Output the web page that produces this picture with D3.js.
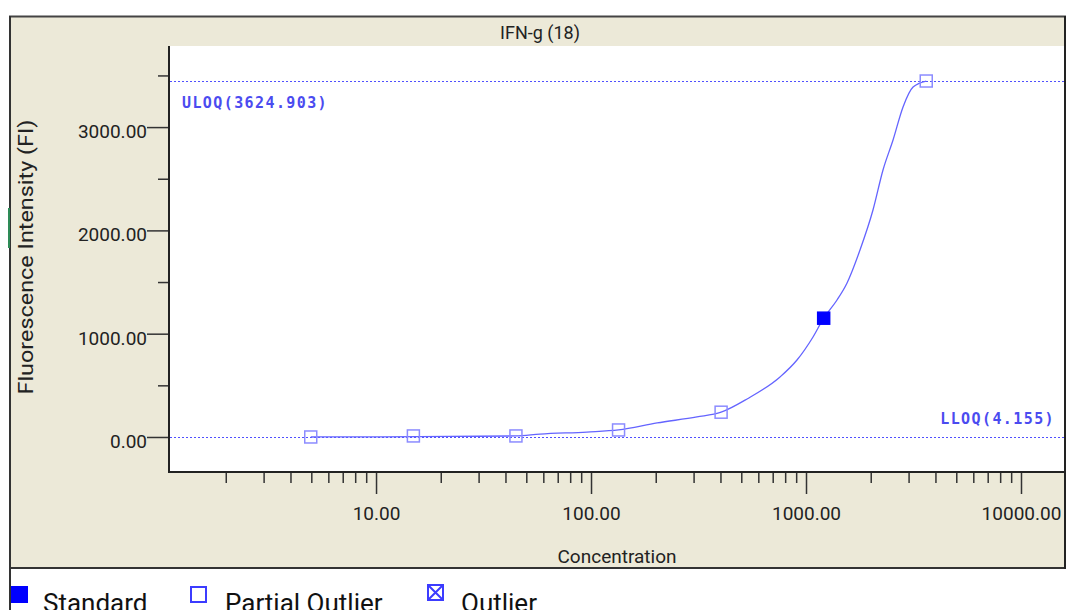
<!DOCTYPE html>
<html>
<head>
<meta charset="utf-8">
<script src="https://cdn.jsdelivr.net/npm/d3@7"></script>
<style>
  body { margin: 0; background: #fff; }
  svg { display: block; font-family: Roboto, "Liberation Sans", sans-serif; }
</style>
</head>
<body>
<div id="chart"></div>
<script>
// standards: 3-fold dilution series
var concentrations = [4.97, 14.92, 44.75, 134.3, 402.8, 1208.3, 3624.9];
var intensities = [0, 10, 10, 68, 240, 1150, 3446];
var pointTypes = ["partial", "partial", "partial", "partial", "partial", "standard", "partial"];

// fitted curve
var curveConc = [4.97, 10.4, 22.1, 44.75, 57.9, 95.7, 134.3, 203, 311, 402.8, 532, 757, 908, 1078, 1208.3, 1394, 1552, 1783, 2049, 2281, 2540, 2827, 3148, 3624.9];
var curveFI = [0, 2, 6, 10, 28, 48, 68, 136, 194, 240, 368, 581, 745, 968, 1150, 1326, 1491, 1810, 2197, 2585, 2875, 3195, 3388, 3446];

var xMajorTicks = [10, 100, 1000, 10000];
var yMajorTicks = [0, 1000, 2000, 3000];
var yMinorTicks = [500, 1500, 2500, 3500];

var uloqLabel = "ULOQ(3624.903)", uloqFI = 3446;
var lloqLabel = "LLOQ(4.155)", lloqFI = 0;

var legendItems = ["Standard", "Partial Outlier", "Outlier"];

var W = 1067, H = 610;
var svg = d3.select("#chart").append("svg").attr("width", W).attr("height", H);

// frame
svg.append("rect").attr("x", 10).attr("y", 16).attr("width", 1055).attr("height", 552)
  .attr("fill", "#ECE9D8");
svg.append("line").attr("x1", 9).attr("x2", 1066).attr("y1", 16.5).attr("y2", 16.5)
  .attr("stroke", "#444").attr("stroke-width", 2);
svg.append("line").attr("x1", 9).attr("x2", 1066).attr("y1", 568).attr("y2", 568)
  .attr("stroke", "#333").attr("stroke-width", 2);
svg.append("line").attr("x1", 1065).attr("x2", 1065).attr("y1", 16).attr("y2", 569)
  .attr("stroke", "#222").attr("stroke-width", 2);
svg.append("line").attr("x1", 10).attr("x2", 10).attr("y1", 16).attr("y2", H)
  .attr("stroke", "#333").attr("stroke-width", 2);
svg.append("rect").attr("x", 8).attr("y", 208).attr("width", 2).attr("height", 40).attr("fill", "#2e8b57");

var pLeft = 169, pRight = 1064, pTop = 46, pBottom = 472;
svg.append("rect").attr("x", pLeft).attr("y", pTop).attr("width", pRight - pLeft).attr("height", pBottom - pTop)
  .attr("fill", "#fff");

var x = d3.scaleLog().domain([1.089, 15850]).range([pLeft, pRight]);
var y = d3.scaleLinear().domain([-339, 3785]).range([pBottom, pTop]);

// title
svg.append("text").attr("x", 540).attr("y", 39).attr("text-anchor", "middle")
  .style("font-size", "18px").attr("fill", "#222").text("IFN-g (18)");

// axes
var fmt = d3.format(".2f");
var yAxis = svg.append("g").attr("transform", "translate(" + pLeft + ",0)")
  .call(d3.axisLeft(y).tickValues(yMajorTicks).tickSize(22).tickPadding(0).tickFormat(fmt));
svg.append("g").attr("transform", "translate(" + pLeft + ",0)")
  .call(d3.axisLeft(y).tickValues(yMinorTicks).tickSize(11).tickFormat(""));

var xMinor = [];
[1, 10, 100, 1000].forEach(function (d) {
  for (var k = 2; k <= 9; k++) xMinor.push(d * k);
});
var xAxis = svg.append("g").attr("transform", "translate(0," + pBottom + ")")
  .call(d3.axisBottom(x).tickValues(xMajorTicks).tickSize(22).tickPadding(13).tickFormat(fmt));
svg.append("g").attr("transform", "translate(0," + pBottom + ")")
  .call(d3.axisBottom(x).tickValues(xMinor.filter(function (d) { return x(d) > pLeft; }))
    .tickSize(11).tickFormat(""));

svg.selectAll(".domain").remove();
svg.selectAll(".tick line").attr("stroke", "#333").attr("stroke-width", 1.5);
svg.selectAll(".tick text").attr("fill", "#222").style("font-size", "19px").style("font-family", "Roboto");
yAxis.selectAll(".tick text").attr("dy", "0.55em");

svg.append("line").attr("x1", pLeft).attr("x2", pLeft).attr("y1", pTop).attr("y2", pBottom + 1)
  .attr("stroke", "#222").attr("stroke-width", 2);
svg.append("line").attr("x1", pLeft).attr("x2", pRight).attr("y1", pBottom).attr("y2", pBottom)
  .attr("stroke", "#222").attr("stroke-width", 2);

// axis titles
svg.append("text").attr("x", 617).attr("y", 563).attr("text-anchor", "middle")
  .style("font-size", "19px").attr("fill", "#222").text("Concentration");
svg.append("text").attr("transform", "translate(33,257) rotate(-90)").attr("text-anchor", "middle")
  .style("font-size", "20px").attr("fill", "#222")
  .attr("textLength", 275).attr("lengthAdjust", "spacingAndGlyphs")
  .text("Fluorescence Intensity (FI)");

// ULOQ / LLOQ
var qColor = "#4b4bf0";
[uloqFI, lloqFI].forEach(function (v) {
  svg.append("line").attr("x1", pLeft + 1).attr("x2", pRight).attr("y1", Math.round(y(v)) + 0.5)
    .attr("y2", Math.round(y(v)) + 0.5)
    .attr("stroke", "#5050ff").attr("stroke-width", 1).attr("stroke-dasharray", "2,2");
});
svg.append("text").attr("x", 182).attr("y", y(uloqFI) + 27).attr("fill", qColor)
  .style("font-family", "DejaVu Sans Mono").style("font-size", "15px").style("font-weight", "bold")
  .style("letter-spacing", "1.4px")
  .text(uloqLabel);
svg.append("text").attr("x", 1055).attr("y", y(lloqFI) - 13).attr("text-anchor", "end").attr("fill", qColor)
  .style("font-family", "DejaVu Sans Mono").style("font-size", "15px").style("font-weight", "bold")
  .style("letter-spacing", "1.4px")
  .text(lloqLabel);

// curve
var line = d3.line().x(function (d) { return x(d[0]); }).y(function (d) { return y(d[1]); })
  .curve(d3.curveMonotoneX);
svg.append("path").datum(d3.zip(curveConc, curveFI)).attr("d", line)
  .attr("fill", "none").attr("stroke", "#6464ff").attr("stroke-width", 1.3);

// points
var s = 12;
svg.selectAll("rect.pt").data(d3.range(concentrations.length)).enter().append("rect")
  .attr("class", "pt")
  .attr("x", function (i) { return x(concentrations[i]) - s / 2; })
  .attr("y", function (i) { return y(intensities[i]) - s / 2; })
  .attr("width", s).attr("height", s)
  .attr("fill", function (i) { return pointTypes[i] === "standard" ? "#0000ff" : "none"; })
  .attr("stroke", function (i) { return pointTypes[i] === "standard" ? "#0000ff" : "#8c8cff"; })
  .attr("stroke-width", 1.5);

// legend
var lg = svg.append("g");
lg.append("rect").attr("x", 11).attr("y", 586).attr("width", 17).attr("height", 17).attr("fill", "#0000ff");
lg.append("rect").attr("x", 191).attr("y", 587).attr("width", 15).attr("height", 15)
  .attr("fill", "none").attr("stroke", "#3c3cff").attr("stroke-width", 2);
lg.append("rect").attr("x", 428).attr("y", 585).attr("width", 15).attr("height", 15)
  .attr("fill", "none").attr("stroke", "#3c3cff").attr("stroke-width", 2);
lg.append("path").attr("d", "M428,585L443,600M443,585L428,600")
  .attr("stroke", "#3c3cff").attr("stroke-width", 2);
var legendX = [43, 225, 461];
legendItems.forEach(function (t, i) {
  lg.append("text").attr("x", legendX[i]).attr("y", 612).style("font-size", "26px")
    .attr("fill", "#111").text(t);
});
</script>
</body>
</html>
